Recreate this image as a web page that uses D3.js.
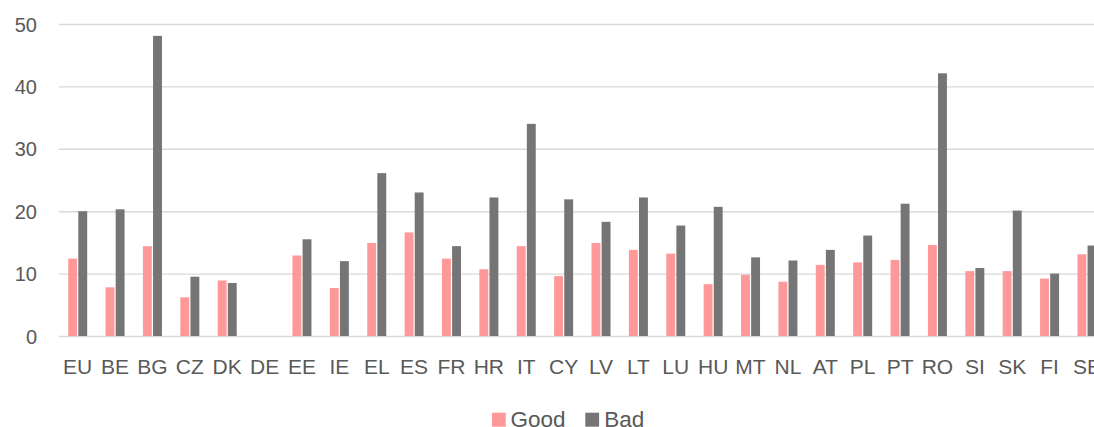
<!DOCTYPE html>
<html><head><meta charset="utf-8">
<script src="https://cdn.jsdelivr.net/npm/d3@7"></script>
<style>html,body{margin:0;padding:0;background:#fff;overflow:hidden}svg{display:block}</style>
</head><body>
<script>
const categories = ["EU","BE","BG","CZ","DK","DE","EE","IE","EL","ES","FR","HR","IT","CY","LV","LT","LU","HU","MT","NL","AT","PL","PT","RO","SI","SK","FI","SE"];
const good = [12.4,7.8,14.4,6.2,8.9,null,12.9,7.7,14.9,16.6,12.4,10.7,14.4,9.6,14.9,13.8,13.2,8.3,9.8,8.7,11.4,11.8,12.2,14.6,10.4,10.4,9.2,13.1];
const bad  = [20.0,20.3,48.1,9.5,8.5,null,15.5,12.0,26.1,23.0,14.4,22.2,34.0,21.9,18.3,22.2,17.7,20.7,12.6,12.1,13.8,16.1,21.2,42.1,10.9,20.1,10.0,14.5];
const seriesNames = ["Good","Bad"];
const yTicks = [0,10,20,30,40,50];

const W = 1094, H = 427;
const colors = {Good:"#ff9999", Bad:"#757575"};
const font = "'Liberation Sans', Arial, sans-serif";
const svg = d3.select("body").append("svg").attr("width",W).attr("height",H);

const x = d3.scaleBand().domain(categories).range([59, 59 + 37.38*categories.length]).paddingInner(0).paddingOuter(0);
const y = d3.scaleLinear().domain([0,50]).range([336,24]);
const inner = d3.scaleBand().domain(seriesNames).range([0, 19]).paddingInner(0.12);

// gridlines
const yAxis = d3.axisLeft(y).tickValues(yTicks).tickSize(-(W-59)).tickPadding(22);
const gy = svg.append("g").attr("transform","translate(59,0)").call(yAxis);
gy.select(".domain").remove();
gy.selectAll(".tick line").attr("stroke","#d9d9d9").attr("stroke-width",1.4);
gy.selectAll(".tick text").attr("font-family",font).attr("font-size","20px").attr("fill","#595959").attr("x",-22).attr("dy","0.35em");

const data = categories.map((c,i)=>({c, vals:[{s:"Good",v:good[i]},{s:"Bad",v:bad[i]}]}));
const groups = svg.append("g").selectAll("g").data(data).join("g")
  .attr("transform", d=>`translate(${x(d.c) + x.bandwidth()/2 - 9.5},0)`);
groups.selectAll("rect").data(d=>d.vals.filter(v=>v.v!=null)).join("rect")
  .attr("x", d=>inner(d.s)).attr("width", inner.bandwidth())
  .attr("y", d=>y(d.v)).attr("height", d=>y(0)-y(d.v))
  .attr("fill", d=>colors[d.s]);

// x axis labels
const xAxis = d3.axisBottom(x).tickSize(0).tickPadding(0);
const gx = svg.append("g").attr("transform","translate(0,374)").call(xAxis);
gx.select(".domain").remove();
gx.selectAll(".tick text").attr("font-family",font).attr("font-size","21px").attr("fill","#595959").attr("y",0).attr("dy","0");

// legend
const legend = svg.append("g");
const legX = [492, 585.3];
const legTextX = [510.5, 604.2];
seriesNames.forEach((s,i)=>{
  legend.append("rect").attr("x",legX[i]).attr("y",412.7).attr("width",13.8).attr("height",14).attr("fill",colors[s]);
  legend.append("text").attr("x",legTextX[i]).attr("y",427).attr("font-family",font).attr("font-size","22.5px").attr("fill","#595959").text(s);
});
</script>
</body></html>
